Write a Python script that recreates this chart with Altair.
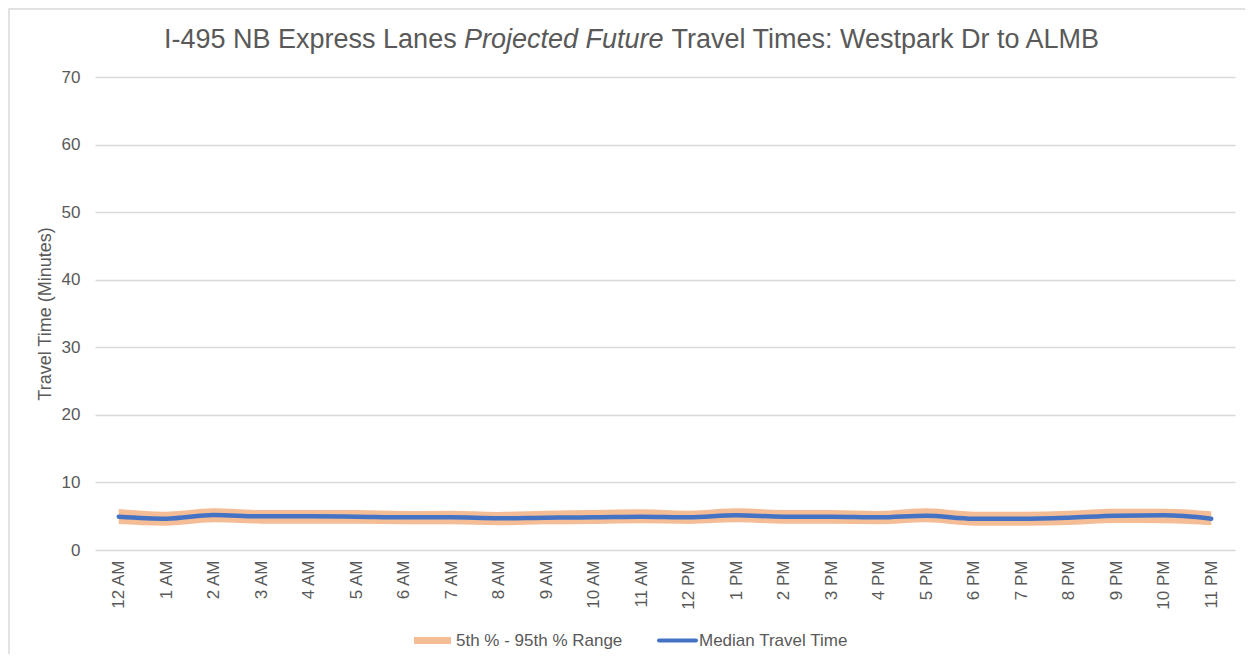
import altair as alt
import pandas as pd

# ---- data ----
hours = ["12 AM", "1 AM", "2 AM", "3 AM", "4 AM", "5 AM", "6 AM", "7 AM", "8 AM", "9 AM",
         "10 AM", "11 AM", "12 PM", "1 PM", "2 PM", "3 PM", "4 PM", "5 PM", "6 PM", "7 PM",
         "8 PM", "9 PM", "10 PM", "11 PM"]
median = [4.93, 4.64, 5.18, 4.98, 4.98, 4.93, 4.83, 4.83, 4.69, 4.79, 4.83, 4.93,
          4.83, 5.13, 4.93, 4.93, 4.83, 5.08, 4.64, 4.64, 4.79, 5.08, 5.13, 4.64]
p95 = [6.07, 5.67, 6.17, 5.92, 5.92, 5.92, 5.77, 5.82, 5.64, 5.82, 5.92, 6.02,
       5.82, 6.17, 5.92, 5.92, 5.77, 6.17, 5.67, 5.67, 5.82, 6.12, 6.12, 5.72]
p5 = [3.85, 3.60, 4.09, 3.90, 3.90, 3.90, 3.80, 3.80, 3.65, 3.80, 3.85, 3.95,
      3.85, 4.09, 3.90, 3.90, 3.80, 4.09, 3.60, 3.60, 3.70, 4.00, 3.95, 3.65]
y_ticks = [0, 10, 20, 30, 40, 50, 60, 70]

title_parts = ["I-495 NB Express Lanes", "Projected Future", "Travel Times: Westpark Dr to ALMB"]
y_title = "Travel Time (Minutes)"
legend_labels = ["5th % - 95th % Range", "Median Travel Time"]

df = pd.DataFrame({"hour": hours, "median": median, "low": p5, "high": p95})
one = pd.DataFrame({"k": [0]})

TEXT = "#595959"
GRID = "#d9d9d9"
ORANGE = "#F5BD96"
BLUE = "#4472C4"
FONT = "Liberation Sans"

x_enc = alt.X("hour:O", sort=hours,
              scale=alt.Scale(type="point", padding=0.5),
              axis=alt.Axis(title=None, labelAngle=270, labelAlign="right", labelBaseline="middle",
                            labelPadding=10, ticks=False, domain=False, grid=False,
                            labelFontSize=17, labelColor=TEXT, labelFont=FONT))
y_scale = alt.Scale(domain=[0, 70], nice=False, zero=True)

band = alt.Chart(df).mark_area(color=ORANGE, interpolate="monotone").encode(
    x=x_enc,
    y=alt.Y("low:Q", scale=y_scale,
            axis=alt.Axis(values=y_ticks, title=y_title, grid=True, gridColor=GRID, gridWidth=1.3,
                          domain=False, ticks=False, tickSize=0, labelPadding=15,
                          labelFontSize=17, labelColor=TEXT, labelFont=FONT,
                          titleFontSize=18, titleColor=TEXT, titleFont=FONT, titleFontWeight="normal",
                          titleX=-50, titleBaseline="middle")),
    y2="high:Q",
)

line = alt.Chart(df).mark_line(color=BLUE, strokeWidth=4.5, interpolate="monotone",
                               strokeCap="round").encode(
    x=alt.X("hour:O", sort=hours),
    y=alt.Y("median:Q"),
)

# Title with italic middle part
t1 = alt.Chart(one).mark_text(align="left", baseline="alphabetic", fontSize=27, font=FONT,
                              color=TEXT).encode(x=alt.value(69), y=alt.value(-29),
                                                 text=alt.value(title_parts[0]))
t2 = alt.Chart(one).mark_text(align="left", baseline="alphabetic", fontSize=27, font=FONT,
                              fontStyle="italic", color=TEXT).encode(
    x=alt.value(369), y=alt.value(-29), text=alt.value(title_parts[1]))
t3 = alt.Chart(one).mark_text(align="left", baseline="alphabetic", fontSize=27, font=FONT,
                              color=TEXT).encode(x=alt.value(576.5), y=alt.value(-29),
                                                 text=alt.value(title_parts[2]))

# Legend
leg_sw1 = alt.Chart(one).mark_rect(color=ORANGE).encode(
    x=alt.value(319), x2=alt.value(356), y=alt.value(560), y2=alt.value(567))
leg_t1 = alt.Chart(one).mark_text(align="left", baseline="alphabetic", fontSize=17, font=FONT,
                                  color=TEXT).encode(x=alt.value(361), y=alt.value(569),
                                                     text=alt.value(legend_labels[0]))
leg_sw2 = alt.Chart(one).mark_rule(color=BLUE, strokeWidth=4, strokeCap="round").encode(
    x=alt.value(564), x2=alt.value(601), y=alt.value(563.5))
leg_t2 = alt.Chart(one).mark_text(align="left", baseline="alphabetic", fontSize=17, font=FONT,
                                  color=TEXT).encode(x=alt.value(604), y=alt.value(569),
                                                     text=alt.value(legend_labels[1]))

# Outer chart frame (top and left edges visible)
frame = alt.Chart(one).mark_rect(fill=None, stroke=GRID, strokeWidth=1.5).encode(
    x=alt.value(-86), x2=alt.value(1200), y=alt.value(-68), y2=alt.value(650))

chart = alt.layer(frame, band, line, t1, t2, t3, leg_sw1, leg_t1, leg_sw2, leg_t2).properties(
    width=1140, height=473,
    padding={"left": 87, "top": 69, "right": 10, "bottom": 104},
    autosize=alt.AutoSizeParams(type="none"),
    background="white",
).configure_view(stroke=None)

chart.save("out.html", embed_options={"renderer": "svg", "actions": False})
